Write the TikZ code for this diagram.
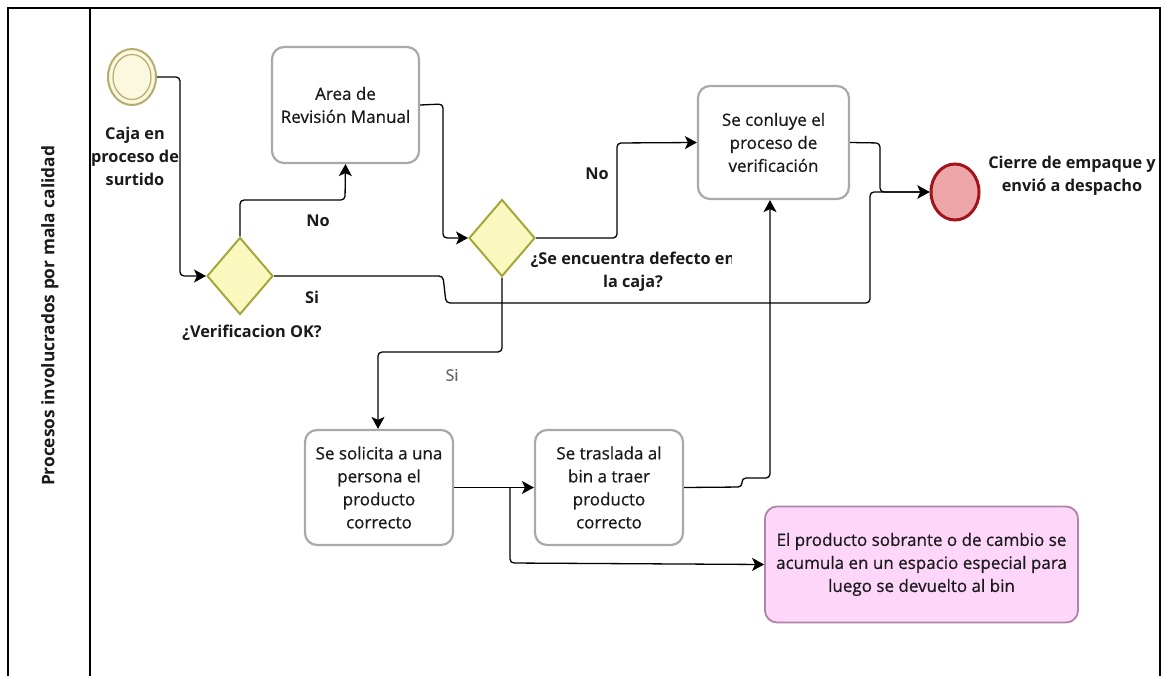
\documentclass[tikz,border=0pt]{standalone}
\usepackage{fontspec}
\setmainfont{Open Sans}
\newfontfamily\taskfont[FakeBold=0.6]{Open Sans}
\usetikzlibrary{arrows.meta,shapes.geometric}
\definecolor{taskline}{HTML}{A9A9A9}
\definecolor{startline}{HTML}{B5AD6E}
\definecolor{startfill}{HTML}{FCF7DF}
\definecolor{gateline}{HTML}{A6A63A}
\definecolor{gatefill}{HTML}{FAF8BE}
\definecolor{endline}{HTML}{A3141A}
\definecolor{endfill}{HTML}{EDA7A9}
\definecolor{noteline}{HTML}{B084A6}
\definecolor{notefill}{HTML}{FDD6FA}
\definecolor{txt}{HTML}{1A1A1A}
\tikzset{
  task/.style={draw=taskline, line width=2.2pt, rounded corners=12pt, fill=white,
    inner sep=0pt, text=txt, align=center, font=\taskfont\fontsize{17}{23}\selectfont},
  note/.style={task, draw=noteline, fill=notefill, line width=1.8pt},
  gate/.style={diamond, draw=gateline, fill=gatefill, line width=2pt, inner sep=0pt,
    minimum width=66pt, minimum height=77pt},
  lbl/.style={text=txt, align=center, font=\fontsize{16.3}{23}\selectfont\bfseries, inner sep=0pt},
  flow/.style={draw=black, line width=1.3pt, rounded corners=4pt,
    -{Stealth[length=12pt,width=13pt,inset=3pt]}},
  lane/.style={draw=black, line width=1.3pt}
}
\begin{document}
\begin{tikzpicture}[x=1pt,y=-1pt]
\useasboundingbox (0,0) rectangle (1166,676);
% pool frame and lane header
\draw[lane] (8,676) -- (8,8) -- (1160,8) -- (1160,676);
\draw[lane] (90,8) -- (90,676);
\node[lbl, rotate=90, font=\fontsize{17.3}{23}\selectfont\bfseries] (lanename) at (50,316) {Procesos involucrados por mala calidad};

% events
\node[ellipse, draw=startline, fill=startfill, line width=2pt, minimum width=48pt, minimum height=56pt] (start) at (132,77) {};
\node[ellipse, draw=startline, line width=1.2pt, minimum width=38pt, minimum height=45pt] (startin) at (132,77) {};
\node[lbl] (startlbl) at (135,156) {Caja en\\proceso de\\surtido};
\node[ellipse, draw=endline, fill=endfill, line width=3pt, minimum width=48pt, minimum height=56pt] (end) at (955,192) {};
\node[lbl] (endlbl) at (1072,176) {Cierre de empaque y\\envió a despacho};

% gateways
\node[gate] (g1) at (240,276) {};
\node[lbl] (g1lbl) at (252,333) {¿Verificacion OK?};
\node[gate] (g2) at (502,238) {};
\begin{scope}
  \clip (520,240) rectangle (731,300);
  \node[lbl] (g2lbl) at (633,272) {¿Se encuentra defecto en\\la caja?};
\end{scope}

% tasks
\node[task, minimum width=147pt, minimum height=116pt] (revision) at (345.5,105) {Area de\\Revisión Manual};
\node[task, minimum width=151pt, minimum height=113pt] (concluye) at (773.5,142.5) {Se conluye el\\proceso de\\verificación};
\node[task, minimum width=148pt, minimum height=115pt] (solicita) at (379,487.5) {Se solicita a una\\persona el\\producto\\correcto};
\node[task, minimum width=148pt, minimum height=115pt] (traslada) at (609,487.5) {Se traslada al\\bin a traer\\producto\\correcto};
\node[note, minimum width=313pt, minimum height=116pt] (sobrante) at (921.5,564.5) {El producto sobrante o de cambio se\\acumula en un espacio especial para\\luego se devuelto al bin};

% sequence flows
\draw[flow] (start.east) -- (180,77) -- (180,276) -- (g1.west);
\draw[flow] (g1.north) -- (240,200) -- (345,200) -- (revision.south);
\node[lbl] (no1) at (318,221) {No};
\draw[flow] (revision.east) -- (443,104) -- (443,238) -- (g2.west);
\draw[flow] (g2.east) -- (617,238) -- (617,143) -- (concluye.west);
\node[lbl] (no2) at (597,174) {No};
\draw[flow] (concluye.east) -- (880,143) -- (880,192) -- (end.west);
\draw[flow] (g1.east) -- (443,276) -- (446,303) -- (870,303) -- (870,192) -- (end.west);
\node[lbl] (si1) at (312,297) {Si};
\draw[flow] (g2.south) -- (502,352) -- (378,352) -- (solicita.north -| 378,0);
\node[text=black!60, font=\taskfont\fontsize{16}{18}\selectfont, inner sep=0pt] (si2) at (452,375) {Si};
\draw[flow] (solicita.east) -- (traslada.west);
\draw[flow] (510,488) -- (510,563) -- (sobrante.west);
\draw[flow] (traslada.east) -- (742,487) -- (742,478) -- (770,478) -- (770,199) -- (concluye.south -| 770,0);
\end{tikzpicture}
\end{document}
